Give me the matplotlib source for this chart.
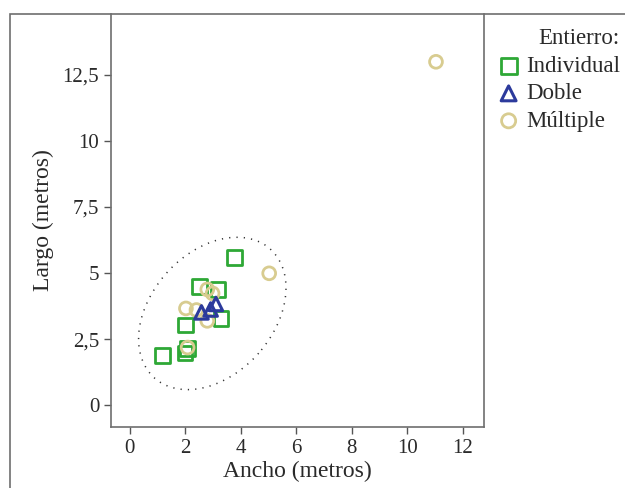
import matplotlib
matplotlib.use("Agg")
import matplotlib.pyplot as plt
from matplotlib.patches import Ellipse, Rectangle

# Ancho (x) y Largo (y) en metros, por tipo de entierro
individual_x = [3.76, 2.50, 3.18, 3.29, 2.01, 1.18, 1.99, 2.08]
individual_y = [5.59, 4.48, 4.38, 3.27, 3.03, 1.87, 1.98, 2.15]
doble_x = [2.58, 2.91, 3.10]
doble_y = [3.51, 3.62, 3.83]
multiple_x = [11.03, 5.02, 2.79, 2.98, 2.02, 2.40, 2.79, 2.08]
multiple_y = [13.00, 4.99, 4.38, 4.23, 3.66, 3.60, 3.19, 2.18]

y_ticks = [0, 2.5, 5, 7.5, 10, 12.5]
y_tick_labels = ["0", "2,5", "5", "7,5", "10", "12,5"]
x_ticks = [0, 2, 4, 6, 8, 10, 12]

# elipse punteada (centro, ejes, angulo en unidades de datos)
ell_center = (2.97, 3.47)
ell_width = 6.43
ell_height = 4.49
ell_angle = 52

plt.rcParams["font.family"] = ["Liberation Serif", "DejaVu Serif"]

fig = plt.figure(figsize=(6.25, 4.88), dpi=100)
ax = fig.add_axes([111 / 625, 61 / 488, 373 / 625, 413 / 488])

# marco exterior
fig.patches.append(Rectangle((10 / 625, -0.1), 1.2, 1.1 - 14 / 488,
                             transform=fig.transFigure, fill=False,
                             edgecolor="#6e6e6e", linewidth=1.2))

ax.add_patch(Ellipse(ell_center, ell_width, ell_height, angle=ell_angle,
                     fill=False, edgecolor="#333333", linewidth=1.1,
                     linestyle=(0, (0.8, 4))))

ax.scatter(individual_x, individual_y, marker="s", s=110, facecolors="none",
           edgecolors="#2ea836", linewidths=2, label="Individual", zorder=3)
ax.scatter(multiple_x, multiple_y, marker="o", s=85, facecolors="none",
           edgecolors="#d8cc90", linewidths=2, label="Múltiple", zorder=4)
ax.scatter(doble_x, doble_y, marker="^", s=95, facecolors="none",
           edgecolors="#2c3a9c", linewidths=2.2, label="Doble", zorder=5)

ax.set_xlim(-0.68, 12.76)
ax.set_ylim(-0.83, 14.81)
ax.set_xticks(x_ticks)
ax.set_yticks(y_ticks)
ax.set_yticklabels(y_tick_labels)
ax.tick_params(direction="out", length=5, width=1, color="#555555",
               labelsize=15, labelcolor="#2a2a2a")

for side in ["left", "bottom", "right"]:
    ax.spines[side].set_color("#6e6e6e")
    ax.spines[side].set_linewidth(1.2)
ax.spines["top"].set_visible(False)

ax.set_xlabel("Ancho (metros)", fontsize=17, color="#2a2a2a", labelpad=2)
ax.set_ylabel("Largo (metros)", fontsize=17, color="#2a2a2a", labelpad=6)

handles, labels = ax.get_legend_handles_labels()
order = [0, 2, 1]
leg = fig.legend([handles[i] for i in order], [labels[i] for i in order],
                 title="Entierro:", loc="upper left",
                 bbox_to_anchor=(488 / 625, 1 - 17 / 488), frameon=False,
                 fontsize=16.5, title_fontsize=16.5, handletextpad=0.35,
                 labelspacing=0.28, borderpad=0, handlelength=0.8,
                 markerscale=1.1, alignment="right")
for t in leg.get_texts():
    t.set_color("#2a2a2a")
leg.get_title().set_color("#2a2a2a")

fig.savefig("out.png", dpi=100)
